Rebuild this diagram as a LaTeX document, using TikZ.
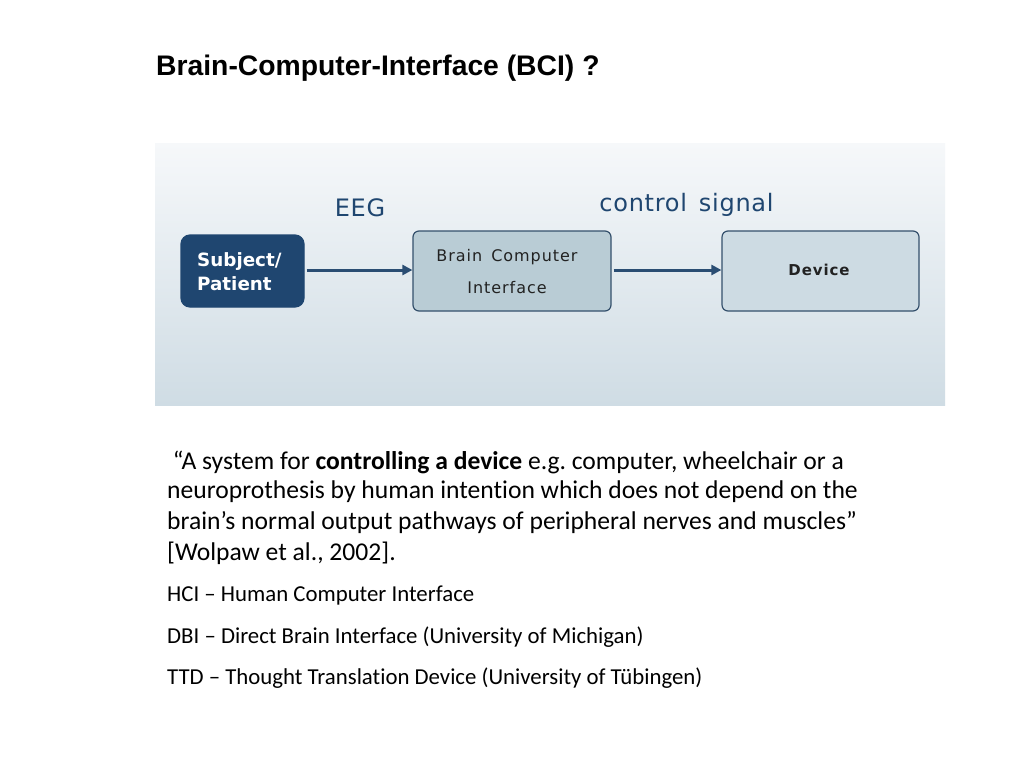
\documentclass[tikz,border=0pt]{standalone}
\usepackage{fontspec}
\setmainfont{Carlito}[Ligatures=NoCommon]
\newfontfamily\titlefont{Liberation Sans}
\newfontfamily\diafont{DejaVu Sans}
\newfontfamily\diafontsp[LetterSpace=6]{DejaVu Sans}
\newfontfamily\lblfont[LetterSpace=3]{DejaVu Sans}
\usetikzlibrary{arrows.meta}
\definecolor{navy}{HTML}{1F4670}
\definecolor{arrowc}{HTML}{2A4D73}
\definecolor{bcifill}{HTML}{B9CCD5}
\definecolor{devfill}{HTML}{CDDBE3}
\definecolor{boxedge}{HTML}{34506C}
\definecolor{paneltop}{HTML}{F6F8FA}
\definecolor{panelbot}{HTML}{CFDCE4}
\definecolor{txt}{HTML}{222222}
\frenchspacing
\begin{document}
\begin{tikzpicture}[x=1pt,y=-1pt,
  box/.style={draw=boxedge,line width=1.2pt,rounded corners=6pt,inner sep=0pt},
  conn/.style={draw=arrowc,line width=3pt,-{Triangle[length=10pt,width=10pt]}},
  lbl/.style={font=\lblfont\fontsize{24}{28}\selectfont,text=navy,inner sep=0pt},
  body/.style={anchor=west,inner sep=0pt,font=\fontsize{25.6}{30}\selectfont,text=black},
  item/.style={anchor=west,inner sep=0pt,font=\fontsize{22.8}{27}\selectfont,text=black}]
\useasboundingbox[fill=white] (0,0) rectangle (1024,768);
\node[anchor=west,inner sep=0pt,font=\titlefont\bfseries\fontsize{28.3}{33}\selectfont] (title) at (156,68) {Brain-Computer-Interface (BCI) ?};
\shade[top color=paneltop,bottom color=panelbot] (155,143) rectangle (945,405);
\node[box,draw=navy,fill=navy,minimum width=123pt,minimum height=72pt,rounded corners=9pt] (subj) at (242.5,271) {};
\node[anchor=west,inner sep=0pt,align=left,text=white,font=\diafont\bfseries\fontsize{18.3}{24}\selectfont] (subjt) at (197,272) {Subject/\\Patient};
\node[box,fill=bcifill,minimum width=198pt,minimum height=80pt] (bci) at (512,271) {};
\node[inner sep=0pt,text=txt,font=\diafontsp\fontsize{16}{32}\selectfont,align=center] (bcit) at (507,272) {Brain\hspace{9pt}Computer\\Interface};
\node[box,fill=devfill,minimum width=197pt,minimum height=80pt] (dev) at (820.5,271) {};
\node[inner sep=0pt,text=txt,font=\diafontsp\bfseries\fontsize{15}{18}\selectfont] (devt) at (819,270) {Device};
\draw[conn] (subj.east) ++(2,-1) coordinate (a1) (a1) -- (a1 -| bci.west);
\draw[conn] (bci.east) ++(2,-1) coordinate (a2) (a2) -- (a2 -| dev.west);
\node[lbl] (eeg) at (360,208) {EEG};
\node[lbl] (ctl) at (686.5,205) {control\hspace{12pt}signal};
\node[body] (q1) at (167,462) {\ “A system for \textbf{controlling a device} e.g. computer, wheelchair or a};
\node[body] (q2) at (167,492) {neuroprothesis by human intention which does not depend on the};
\node[body] (q3) at (167,523) {brain’s normal output pathways of peripheral nerves and muscles”};
\node[body] (q4) at (167,553) {[Wolpaw et al., 2002].};
\node[item] (h1) at (167,596) {HCI – Human Computer Interface};
\node[item] (h2) at (167,637) {DBI – Direct Brain Interface (University of Michigan)};
\node[item] (h3) at (167,678) {TTD – Thought Translation Device (University of Tübingen)};
\end{tikzpicture}
\end{document}
